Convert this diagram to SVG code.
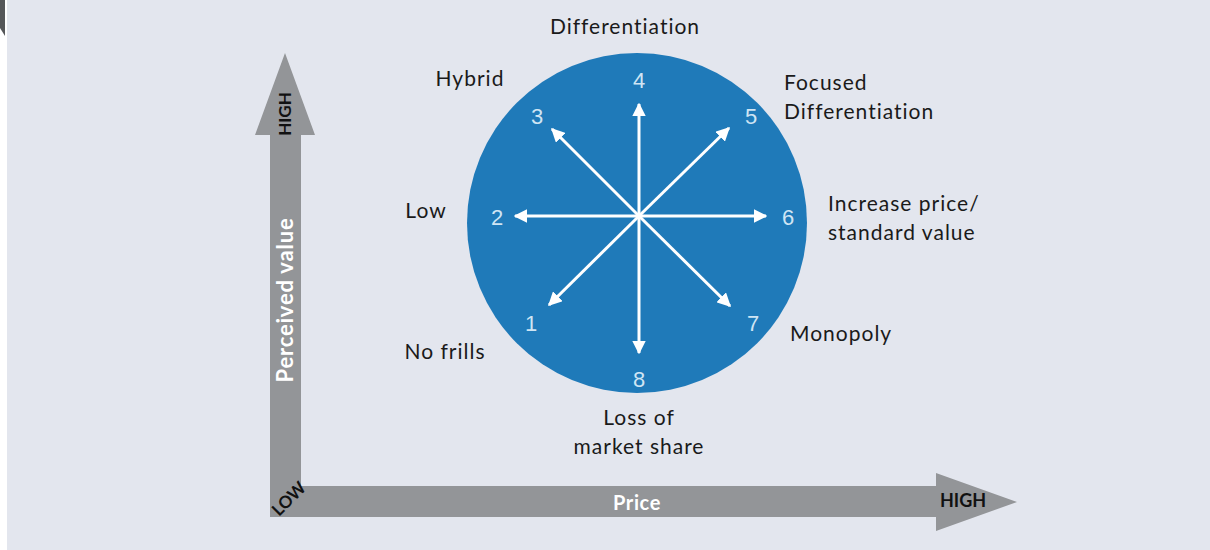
<svg xmlns="http://www.w3.org/2000/svg" width="1210" height="550" viewBox="0 0 1210 550">
  <style>
    .lbl { font-family: Lato, "Noto Sans", "Liberation Sans", sans-serif; font-size: 21px; letter-spacing: 1px; fill: #1a1a1a; }
    .num { font-family: "Liberation Sans", Arial, sans-serif; font-size: 22px; fill: #cfe5f4; text-anchor: middle; }
    .axis { fill: #939598; }
    .axtxt { font-family: Lato, "Noto Sans", "Liberation Sans", sans-serif; font-weight: bold; }
    .ray { stroke: #ffffff; stroke-width: 3; fill: none; marker-end: url(#tip); }
  </style>
  <defs>
    <marker id="tip" viewBox="0 0 10 10" refX="9" refY="5" markerWidth="4.6" markerHeight="4.6" orient="auto" markerUnits="strokeWidth">
      <path d="M0,0 L10,5 L0,10 Z" fill="#ffffff"/>
    </marker>
  </defs>

  <!-- page background -->
  <rect x="0" y="0" width="1210" height="550" fill="#ffffff"/>
  <rect x="7" y="0" width="1203" height="550" fill="#e3e6ee"/>
  <polygon points="0,0 5,0 5,36 0,28" fill="#555759"/>

  <!-- axes -->
  <g id="axis-value">
    <polygon class="axis" points="285,53 315,135 301,135 301,517 270,517 270,135 255,135"/>
    <text class="axtxt" x="0" y="0" transform="translate(291,114) rotate(-90)" font-size="17" fill="#111111" text-anchor="middle">HIGH</text>
    <text class="axtxt" x="0" y="0" transform="translate(293,300) rotate(-90)" font-size="22" letter-spacing="0.8" fill="#ffffff" text-anchor="middle">Perceived value</text>
  </g>
  <g id="axis-price">
    <polygon class="axis" points="270,486 936,486 936,473 1017,502 936,531 936,517 270,517"/>
    <text class="axtxt" x="637" y="510" font-size="20" letter-spacing="0.6" fill="#ffffff" text-anchor="middle">Price</text>
    <text class="axtxt" x="963" y="507" font-size="18" fill="#111111" text-anchor="middle">HIGH</text>
    <text class="axtxt" x="0" y="0" transform="translate(293,503) rotate(-45)" font-size="17" fill="#111111" text-anchor="middle">LOW</text>
  </g>

  <!-- strategy clock -->
  <g id="clock">
    <circle cx="637" cy="223" r="170" fill="#1f7ab9"/>
  </g>

  <g id="connectors">
    <line class="ray" x1="639" y1="216" x2="639" y2="104"/>
    <line class="ray" x1="639" y1="216" x2="639" y2="353"/>
    <line class="ray" x1="639" y1="216" x2="515" y2="216"/>
    <line class="ray" x1="639" y1="216" x2="766" y2="216"/>
    <line class="ray" x1="639" y1="216" x2="552" y2="129"/>
    <line class="ray" x1="639" y1="216" x2="729" y2="128"/>
    <line class="ray" x1="639" y1="216" x2="549" y2="305"/>
    <line class="ray" x1="639" y1="216" x2="730" y2="306"/>
    <circle cx="639" cy="216" r="3" fill="#ffffff"/>
  </g>

  <!-- numbered positions -->
  <g id="n1"><text class="num" x="531" y="331">1</text><text class="lbl" x="445" y="359" text-anchor="middle">No frills</text></g>
  <g id="n2"><text class="num" x="497" y="225">2</text><text class="lbl" x="426" y="218" text-anchor="middle">Low</text></g>
  <g id="n3"><text class="num" x="537" y="124">3</text><text class="lbl" x="470" y="86" text-anchor="middle">Hybrid</text></g>
  <g id="n4"><text class="num" x="639" y="88">4</text><text class="lbl" x="625" y="34" text-anchor="middle">Differentiation</text></g>
  <g id="n5"><text class="num" x="751" y="124">5</text><text class="lbl" x="784" y="90">Focused</text><text class="lbl" x="784" y="119">Differentiation</text></g>
  <g id="n6"><text class="num" x="788" y="225">6</text><text class="lbl" x="828" y="211">Increase price/</text><text class="lbl" x="828" y="240">standard value</text></g>
  <g id="n7"><text class="num" x="753" y="331">7</text><text class="lbl" x="790" y="341">Monopoly</text></g>
  <g id="n8"><text class="num" x="639" y="387">8</text><text class="lbl" x="639" y="425" text-anchor="middle">Loss of</text><text class="lbl" x="639" y="454" text-anchor="middle">market share</text></g>
</svg>
